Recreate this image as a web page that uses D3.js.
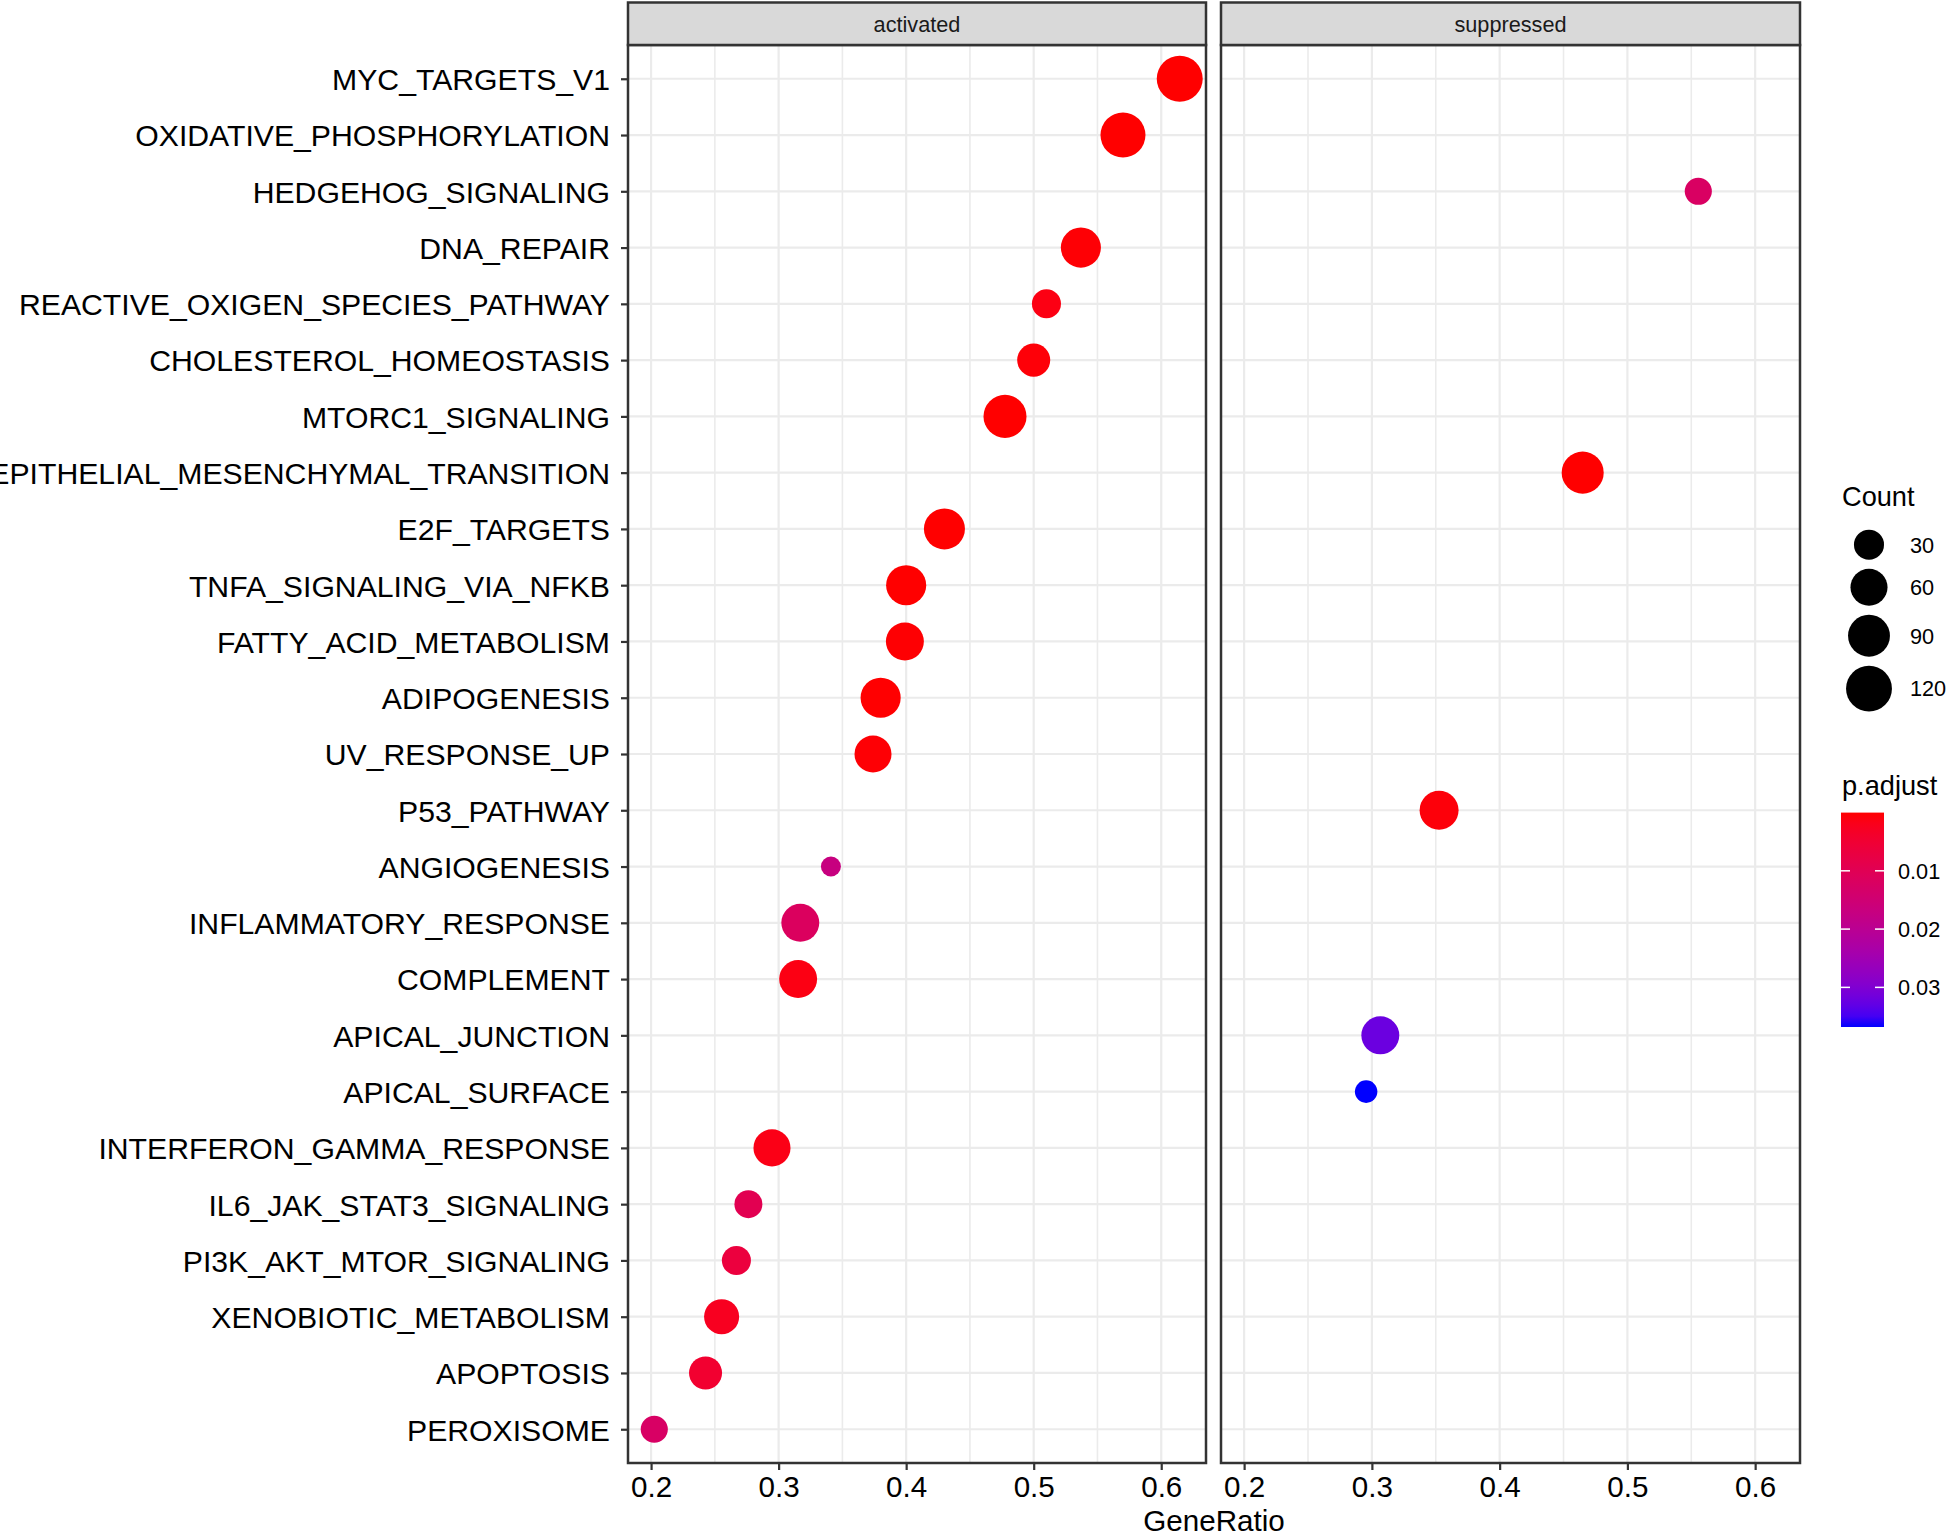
<!DOCTYPE html>
<html>
<head>
<meta charset="utf-8">
<script src="https://cdn.jsdelivr.net/npm/d3@7"></script>
<style>
  html, body { margin: 0; padding: 0; background: #ffffff; }
  svg { display: block; font-family: "Liberation Sans", Arial, Helvetica, sans-serif; }
</style>
</head>
<body>
<svg id="chart" width="1946" height="1534"></svg>
<script>
// ---------------- data ----------------
const categories = [
  "MYC_TARGETS_V1", "OXIDATIVE_PHOSPHORYLATION", "HEDGEHOG_SIGNALING", "DNA_REPAIR",
  "REACTIVE_OXIGEN_SPECIES_PATHWAY", "CHOLESTEROL_HOMEOSTASIS", "MTORC1_SIGNALING",
  "EPITHELIAL_MESENCHYMAL_TRANSITION", "E2F_TARGETS", "TNFA_SIGNALING_VIA_NFKB",
  "FATTY_ACID_METABOLISM", "ADIPOGENESIS", "UV_RESPONSE_UP", "P53_PATHWAY", "ANGIOGENESIS",
  "INFLAMMATORY_RESPONSE", "COMPLEMENT", "APICAL_JUNCTION", "APICAL_SURFACE",
  "INTERFERON_GAMMA_RESPONSE", "IL6_JAK_STAT3_SIGNALING", "PI3K_AKT_MTOR_SIGNALING",
  "XENOBIOTIC_METABOLISM", "APOPTOSIS", "PEROXISOME"
];
const groups = [
  "activated", "activated", "suppressed", "activated", "activated", "activated", "activated",
  "suppressed", "activated", "activated", "activated", "activated", "activated", "suppressed",
  "activated", "activated", "activated", "suppressed", "suppressed", "activated", "activated",
  "activated", "activated", "activated", "activated"
];
const geneRatio = [
  0.6145, 0.570, 0.5555, 0.537, 0.510, 0.500, 0.4775, 0.465, 0.430, 0.400,
  0.399, 0.380, 0.374, 0.3526, 0.341, 0.317, 0.3153, 0.3066, 0.2955, 0.2948,
  0.2763, 0.2669, 0.2553, 0.2427, 0.2025
];
const counts = [
  121, 113, 22, 78, 27, 41, 98, 91, 84, 78,
  65, 78, 60, 71, 14, 65, 65, 65, 15, 60,
  24, 27, 50, 41, 22
];
const pAdjust = [
  0.00001, 0.00001, 0.0122, 0.0003, 0.0012, 0.0005, 0.00001, 0.00001, 0.00001, 0.00001,
  0.0002, 0.0001, 0.0003, 0.0006, 0.0170, 0.0115, 0.0012, 0.0322, 0.0368, 0.0015,
  0.0095, 0.0065, 0.0025, 0.0045, 0.0125
];
const panels = ["activated", "suppressed"];
const xTicks = [0.2, 0.3, 0.4, 0.5, 0.6];
const xMinorTicks = [0.25, 0.35, 0.45, 0.55];
const countBreaks = [30, 60, 90, 120];
const pTicks = [0.01, 0.02, 0.03];

// ---------------- layout ----------------
const svg = d3.select("#chart");
svg.append("rect").attr("width", 1946).attr("height", 1534).attr("fill", "#ffffff");

const stripTop = 2.5, panelTop = 45, panelBottom = 1463;
const panelX = { activated: [628, 1206], suppressed: [1221, 1800] };
const borderCol = "#333333", gridCol = "#EBEBEB";

const data = categories.map((c, i) => ({
  cat: c, grp: groups[i], x: geneRatio[i], n: counts[i], p: pAdjust[i]
}));

// x domain with ggplot-like 5% expansion
const xr = d3.extent(geneRatio);
const xpad = (xr[1] - xr[0]) * 0.05;
const xDomain = [xr[0] - xpad, xr[1] + xpad];

const y = d3.scalePoint().domain(categories).range([panelTop, panelBottom]).padding(0.6);

const sizeNorm = d3.scaleLinear().domain(d3.extent(counts)).range([0, 1]);
const rScale = d3.scaleLinear().domain([0, 1]).range([10, 23]);
const radius = n => rScale(Math.sqrt(Math.max(0, sizeNorm(n))));

const pExt = d3.extent(pAdjust);
const color = d3.scaleLinear().domain(pExt).range(["#ff0000", "#0000ff"]).interpolate(d3.interpolateLab);

// ---------------- panels ----------------
panels.forEach(pn => {
  const [x0, x1] = panelX[pn];
  const x = d3.scaleLinear().domain(xDomain).range([x0, x1]);
  const g = svg.append("g");

  g.append("rect").attr("x", x0).attr("y", panelTop).attr("width", x1 - x0)
    .attr("height", panelBottom - panelTop).attr("fill", "#ffffff");

  g.selectAll(".minor").data(xMinorTicks).enter().append("line")
    .attr("x1", d => x(d)).attr("x2", d => x(d))
    .attr("y1", panelTop).attr("y2", panelBottom)
    .attr("stroke", gridCol).attr("stroke-width", 1.6);
  g.selectAll(".majorx").data(xTicks).enter().append("line")
    .attr("x1", d => x(d)).attr("x2", d => x(d))
    .attr("y1", panelTop).attr("y2", panelBottom)
    .attr("stroke", gridCol).attr("stroke-width", 2.2);
  g.selectAll(".majory").data(categories).enter().append("line")
    .attr("x1", x0).attr("x2", x1)
    .attr("y1", d => y(d)).attr("y2", d => y(d))
    .attr("stroke", gridCol).attr("stroke-width", 2.2);

  g.selectAll("circle").data(data.filter(d => d.grp === pn)).enter().append("circle")
    .attr("cx", d => x(d.x)).attr("cy", d => y(d.cat))
    .attr("r", d => radius(d.n)).attr("fill", d => color(d.p));

  g.append("rect").attr("x", x0).attr("y", panelTop).attr("width", x1 - x0)
    .attr("height", panelBottom - panelTop).attr("fill", "none")
    .attr("stroke", borderCol).attr("stroke-width", 2.5);

  g.append("rect").attr("x", x0).attr("y", stripTop).attr("width", x1 - x0)
    .attr("height", panelTop - stripTop).attr("fill", "#D9D9D9")
    .attr("stroke", borderCol).attr("stroke-width", 2.5);
  g.append("text").attr("x", (x0 + x1) / 2).attr("y", 31.5)
    .attr("text-anchor", "middle").attr("font-size", 21.7).attr("fill", "#1A1A1A")
    .text(pn);

  const ax = svg.append("g").attr("transform", `translate(0,${panelBottom})`)
    .call(d3.axisBottom(x).tickValues(xTicks).tickFormat(d3.format(".1f")).tickSize(7).tickPadding(6));
  ax.select(".domain").remove();
  ax.selectAll(".tick line").attr("stroke", borderCol).attr("stroke-width", 2.2);
  ax.selectAll(".tick text").attr("font-size", 29.6).attr("fill", "#000000")
    .attr("font-family", "Liberation Sans, Arial, sans-serif");
});

// y axis
const ay = svg.append("g").attr("transform", `translate(${panelX.activated[0]},0)`)
  .call(d3.axisLeft(y).tickSize(7).tickPadding(11));
ay.select(".domain").remove();
ay.selectAll(".tick line").attr("stroke", borderCol).attr("stroke-width", 2.2);
ay.selectAll(".tick text").attr("font-size", 30.2).attr("fill", "#000000").attr("dy", "0.36em")
  .attr("font-family", "Liberation Sans, Arial, sans-serif");

// x title
svg.append("text").attr("x", (panelX.activated[0] + panelX.suppressed[1]) / 2).attr("y", 1531)
  .attr("text-anchor", "middle").attr("font-size", 29.6).attr("fill", "#000000")
  .text("GeneRatio");

// ---------------- legends ----------------
const legX = 1842;
svg.append("text").attr("x", legX).attr("y", 506).attr("font-size", 27.2)
  .attr("fill", "#000000").text("Count");

// size legend (key height = point diameter + margin)
let cy = 544.7;
const keyH = countBreaks.map(b => 2 * radius(b) + 9);
const keyY = [];
countBreaks.forEach((b, i) => {
  if (i > 0) cy += (keyH[i - 1] + keyH[i]) / 2;
  keyY.push(cy);
});
const sizeLeg = svg.append("g");
sizeLeg.selectAll("circle").data(countBreaks).enter().append("circle")
  .attr("cx", 1869).attr("cy", (d, i) => keyY[i]).attr("r", d => radius(d)).attr("fill", "#000000");
sizeLeg.selectAll("text").data(countBreaks).enter().append("text")
  .attr("x", 1910).attr("y", (d, i) => keyY[i]).attr("dy", "0.36em")
  .attr("font-size", 21.7).attr("fill", "#000000").text(d => d);

// colour legend
svg.append("text").attr("x", legX).attr("y", 795).attr("font-size", 27.2)
  .attr("fill", "#000000").text("p.adjust");

const barX = 1841, barW = 43, barTop = 812.6, barBottom = 1027;
const cbY = d3.scaleLinear().domain(pExt).range([barTop, barBottom]);
const defs = svg.append("defs");
const grad = defs.append("linearGradient").attr("id", "pgrad")
  .attr("x1", 0).attr("y1", 0).attr("x2", 0).attr("y2", 1);
d3.range(0, 1.0001, 0.05).forEach(t => {
  grad.append("stop").attr("offset", t)
    .attr("stop-color", color(pExt[0] + t * (pExt[1] - pExt[0])));
});
svg.append("rect").attr("x", barX).attr("y", barTop).attr("width", barW)
  .attr("height", barBottom - barTop).attr("fill", "url(#pgrad)");
const cbt = svg.append("g");
pTicks.forEach(t => {
  cbt.append("line").attr("x1", barX).attr("x2", barX + 9).attr("y1", cbY(t)).attr("y2", cbY(t))
    .attr("stroke", "#ffffff").attr("stroke-width", 1.5);
  cbt.append("line").attr("x1", barX + barW - 9).attr("x2", barX + barW).attr("y1", cbY(t)).attr("y2", cbY(t))
    .attr("stroke", "#ffffff").attr("stroke-width", 1.5);
  cbt.append("text").attr("x", 1898).attr("y", cbY(t)).attr("dy", "0.36em")
    .attr("font-size", 21.7).attr("fill", "#000000").text(d3.format(".2f")(t));
});
</script>
</body>
</html>
